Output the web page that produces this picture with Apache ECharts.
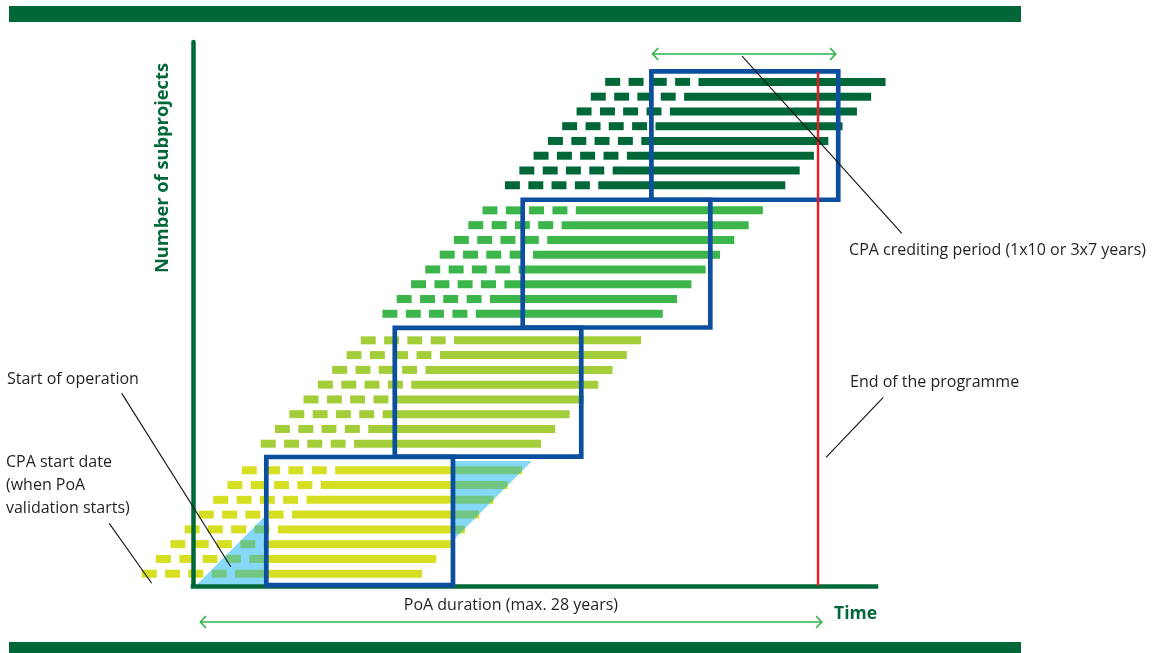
<!DOCTYPE html>
<html>
<head>
<meta charset="utf-8">
<script src="https://cdn.jsdelivr.net/npm/echarts@6/dist/echarts.min.js"></script>
<style>
  html, body { margin: 0; padding: 0; background: #ffffff; }
  #chart { width: 1158px; height: 653px; }
</style>
</head>
<body>
<div id="chart"></div>
<script>
// Timeline of a Programme of Activities: x = years since the CPA start date,
// y = subproject rows. Each subproject has a dashed pre-operation phase and a
// solid bar for its crediting period; the subprojects are added in four waves.

// Operation start (years) of each subproject, per wave
const operationStartWave1 = [2.25, 3.01, 3.78, 4.54, 5.30, 6.07, 6.83, 7.60];
const operationStartWave2 = [8.61, 9.37, 10.14, 10.90, 11.67, 12.43, 13.20, 13.96];
const operationStartWave3 = [15.12, 15.88, 16.65, 17.41, 18.18, 18.94, 19.71, 20.47];
const operationStartWave4 = [21.67, 22.44, 23.20, 23.97, 24.73, 25.50, 26.26, 27.03];

// Row level of each subproject, per wave
const rowLevelWave1 = [0, 1, 2, 3, 4, 5, 6, 7];
const rowLevelWave2 = [8.8, 9.8, 10.8, 11.8, 12.8, 13.8, 14.8, 15.8];
const rowLevelWave3 = [17.6, 18.6, 19.6, 20.6, 21.6, 22.6, 23.6, 24.6];
const rowLevelWave4 = [26.3, 27.3, 28.3, 29.3, 30.3, 31.3, 32.3, 33.3];

// Crediting period length and the pre-operation dashes (offsets in years before operation)
const creditingYears = 10;
const preOperationOffsets = [-4.99, -3.74, -2.50, -1.25];
const preOperationDash = 0.80;

// Crediting windows (blue frames)
const windowStart = [3.92, 10.79, 17.63, 24.51];
const windowEnd = [13.90, 20.76, 27.66, 34.50];
const windowBottom = [-0.77, 7.92, 16.67, 25.32];
const windowTop = [7.90, 16.64, 25.32, 34.01];

// Zone in which the first subprojects start operating (outside the first window)
const operationZone = [[0.2, -0.75], [6.78, 7.63], [18.13, 7.63], [11.55, -0.75]];

// End of the programme
const programmeEnd = 33.42;
const programmeEndTop = 33.98;

// Span arrows: [from, to, level]
const poaSpan = [0.37, 33.64, -3.27];
const creditingSpan = [24.55, 34.39, 35.19];

// Annotation texts and their leader lines
const noteTexts = [
  'CPA crediting period (1x10 or 3x7 years)',
  'End of the programme',
  'Start of operation',
  'CPA start date\n(when PoA\nvalidation starts)'
];
const noteTextAt = [[35.08, 21.92], [35.13, 12.98], [-9.95, 13.18], [-10.0, 5.96]];
const leaderFrom = [[29.36, 35.05], [33.85, 7.88], [2.02, 0.47], [-2.21, -0.65]];
const leaderTo = [[37.90, 23.05], [36.91, 11.94], [-3.81, 12.21], [-4.48, 3.41]];

const poaLabel = 'PoA duration (max. 28 years)';
const poaLabelAt = [17.0, -2.12];
const timeLabel = 'Time';
const timeLabelAt = [34.28, -2.74];
const countLabel = 'Number of subprojects';
const countLabelAt = [-1.60, 27.47];

const waveColors = ['#d7df23', '#a4cd3a', '#3cb54a', '#006838'];
const DARK_GREEN = '#006838';
const FRAME_BLUE = '#0b4f9e';
const ARROW_GREEN = '#2eb34b';
const TEXT = '#231f20';
const FONT = '"Open Sans", "Noto Sans", sans-serif';

const waves = [
  { start: operationStartWave1, level: rowLevelWave1 },
  { start: operationStartWave2, level: rowLevelWave2 },
  { start: operationStartWave3, level: rowLevelWave3 },
  { start: operationStartWave4, level: rowLevelWave4 }
];
const rows = [];
waves.forEach((w, g) => w.start.forEach((s, i) => rows.push([s, w.level[i], g])));

const frames = windowStart.map((s, i) => [s, windowBottom[i], windowEnd[i], windowTop[i]]);

// Clip a polygon to one side of a vertical line x = xc
function clipX(poly, xc, keepLess) {
  const inside = p => keepLess ? p[0] <= xc : p[0] >= xc;
  const cross = (a, b) => {
    const t = (xc - a[0]) / (b[0] - a[0]);
    return [xc, a[1] + t * (b[1] - a[1])];
  };
  const out = [];
  for (let i = 0; i < poly.length; i++) {
    const cur = poly[i];
    const prev = poly[(i + poly.length - 1) % poly.length];
    if (inside(cur)) {
      if (!inside(prev)) out.push(cross(prev, cur));
      out.push(cur);
    } else if (inside(prev)) {
      out.push(cross(prev, cur));
    }
  }
  return out;
}

function renderRow(params, api) {
  const start = api.value(0), y = api.value(1), g = api.value(2);
  const h = 8;
  const color = waveColors[g];
  const children = [];
  const seg = (x0, x1) => {
    const a = api.coord([x0, y]);
    const b = api.coord([x1, y]);
    children.push({
      type: 'rect',
      shape: { x: a[0], y: a[1] - h / 2, width: b[0] - a[0], height: h },
      style: { fill: color }
    });
  };
  preOperationOffsets.forEach(o => seg(start + o, start + o + preOperationDash));
  seg(start, start + creditingYears);
  return { type: 'group', children };
}

function renderZone(params, api) {
  const left = clipX(operationZone, windowStart[0], true);
  const right = clipX(operationZone, windowEnd[0], false);
  const children = [left, right].filter(p => p.length > 2).map(p => ({
    type: 'polygon',
    shape: { points: p.map(pt => api.coord(pt)) },
    style: { fill: '#00aeef', opacity: 0.48 }
  }));
  return { type: 'group', children };
}

function renderFrame(params, api) {
  const a = api.coord([api.value(0), api.value(3)]);
  const b = api.coord([api.value(2), api.value(1)]);
  return {
    type: 'rect',
    shape: { x: a[0], y: a[1], width: b[0] - a[0], height: b[1] - a[1] },
    style: { fill: null, stroke: FRAME_BLUE, lineWidth: 4.7 }
  };
}

function renderEnd(params, api) {
  const a = api.coord([programmeEnd, programmeEndTop]);
  const b = api.coord([programmeEnd, -0.82]);
  return {
    type: 'line',
    shape: { x1: a[0], y1: a[1], x2: b[0], y2: b[1] },
    style: { stroke: '#ed1c24', lineWidth: 2.4 }
  };
}

function spanArrow(api, span) {
  const a = api.coord([span[0], span[2]]);
  const b = api.coord([span[1], span[2]]);
  const hx = 6, hy = 6;
  const st = { stroke: ARROW_GREEN, lineWidth: 1.6, fill: null };
  return [
    { type: 'line', shape: { x1: a[0], y1: a[1], x2: b[0], y2: b[1] }, style: st },
    { type: 'polyline', shape: { points: [[a[0] + hx, a[1] - hy], [a[0] + 0.5, a[1]], [a[0] + hx, a[1] + hy]] }, style: st },
    { type: 'polyline', shape: { points: [[b[0] - hx, b[1] - hy], [b[0] - 0.5, b[1]], [b[0] - hx, b[1] + hy]] }, style: st }
  ];
}

function renderNotes(params, api) {
  const children = [];
  leaderFrom.forEach((f, i) => {
    const a = api.coord(f), b = api.coord(leaderTo[i]);
    children.push({
      type: 'line',
      shape: { x1: a[0], y1: a[1], x2: b[0], y2: b[1] },
      style: { stroke: '#111111', lineWidth: 1.1 }
    });
  });
  noteTexts.forEach((t, i) => {
    const p = api.coord(noteTextAt[i]);
    children.push({
      type: 'text', x: p[0], y: p[1],
      style: { text: t, fill: TEXT, font: '16px ' + FONT, align: 'left', verticalAlign: 'middle', lineHeight: 23 }
    });
  });
  spanArrow(api, poaSpan).forEach(c => children.push(c));
  spanArrow(api, creditingSpan).forEach(c => children.push(c));
  const pl = api.coord(poaLabelAt);
  children.push({
    type: 'text', x: pl[0], y: pl[1],
    style: { text: poaLabel, fill: TEXT, font: '16px ' + FONT, align: 'center', verticalAlign: 'middle' }
  });
  const tl = api.coord(timeLabelAt);
  children.push({
    type: 'text', x: tl[0], y: tl[1],
    style: { text: timeLabel, fill: DARK_GREEN, font: 'bold 17.5px ' + FONT, align: 'left', verticalAlign: 'middle' }
  });
  const cl = api.coord(countLabelAt);
  children.push({
    type: 'text', x: cl[0], y: cl[1], rotation: Math.PI / 2,
    style: { text: countLabel, fill: DARK_GREEN, font: 'bold 18.3px ' + FONT, align: 'center', verticalAlign: 'middle' }
  });
  return { type: 'group', children };
}

const chart = echarts.init(document.getElementById('chart'), null, { renderer: 'canvas' });

const hiddenAxisParts = {
  axisTick: { show: false },
  axisLabel: { show: false },
  splitLine: { show: false }
};

chart.setOption({
  animation: false,
  backgroundColor: '#ffffff',
  grid: { left: 193, right: 282, top: 42, bottom: 67.2 },
  xAxis: Object.assign({
    type: 'value', min: 0, max: 36.52, z: 4,
    axisLine: { show: true, onZero: false, lineStyle: { color: DARK_GREEN, width: 4.5, cap: 'square' } }
  }, hiddenAxisParts),
  yAxis: Object.assign({
    type: 'value', min: -0.82, max: 36, z: 4,
    axisLine: { show: true, onZero: false, lineStyle: { color: DARK_GREEN, width: 4.5 } }
  }, hiddenAxisParts),
  graphic: [
    { type: 'rect', left: 9, top: 6, shape: { width: 1012, height: 16 }, style: { fill: DARK_GREEN } },
    { type: 'rect', left: 9, top: 642, shape: { width: 1012, height: 11 }, style: { fill: DARK_GREEN } }
  ],
  series: [
    { type: 'custom', name: 'subprojects', coordinateSystem: 'cartesian2d', clip: false, silent: true, z: 2,
      renderItem: renderRow, data: rows },
    { type: 'custom', name: 'operation zone', coordinateSystem: 'cartesian2d', clip: false, silent: true, z: 3,
      renderItem: renderZone, data: [[0, 0]] },
    { type: 'custom', name: 'crediting windows', coordinateSystem: 'cartesian2d', clip: false, silent: true, z: 5,
      renderItem: renderFrame, data: frames },
    { type: 'custom', name: 'programme end', coordinateSystem: 'cartesian2d', clip: false, silent: true, z: 6,
      renderItem: renderEnd, data: [[programmeEnd, 0]] },
    { type: 'custom', name: 'notes', coordinateSystem: 'cartesian2d', clip: false, silent: true, z: 7,
      renderItem: renderNotes, data: [[0, 0]] }
  ]
});
</script>
</body>
</html>
